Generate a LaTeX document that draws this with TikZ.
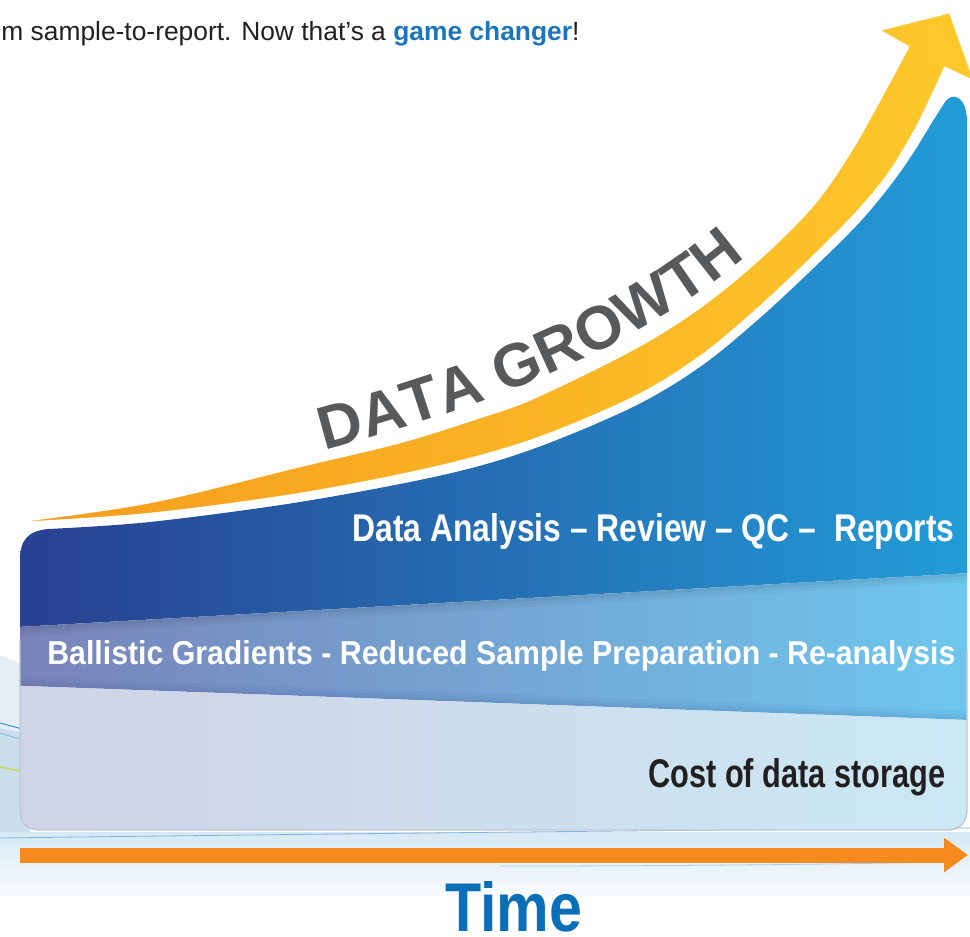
\documentclass[tikz,border=0pt]{standalone}
\usepackage{fontspec}
\usepackage{graphicx}
\setmainfont{Liberation Sans}
\usetikzlibrary{arrows.meta}
\definecolor{navyL}{HTML}{283E8E}
\definecolor{navyM}{HTML}{2A66B1}
\definecolor{navyR}{HTML}{229DD8}
\definecolor{midL}{HTML}{7A82B8}
\definecolor{midM}{HTML}{78A6D5}
\definecolor{midR}{HTML}{6EC7EE}
\definecolor{lowL}{HTML}{CFD3E6}
\definecolor{lowR}{HTML}{CCE8F5}
\definecolor{arrO}{HTML}{F59C1D}
\definecolor{arrY}{HTML}{FEC92B}
\definecolor{timeO}{HTML}{F58A1F}
\definecolor{timeB}{HTML}{0B6FB8}
\definecolor{dgray}{HTML}{58595B}
\definecolor{ink}{HTML}{231F20}
\definecolor{gcblue}{HTML}{1B75BC}
\definecolor{paleA}{HTML}{E4EEF5}
\definecolor{paleB}{HTML}{C9DDEA}
\definecolor{swblue}{HTML}{4C8FD0}
\definecolor{swgreen}{HTML}{C8DC5A}
\definecolor{reflA}{HTML}{D6E9F5}
\definecolor{edgegray}{HTML}{BFC8D4}
\newcommand{\dgfont}{\fontsize{30.5pt}{30.5pt}\selectfont\bfseries}
\newcommand{\panelpath}{(20,560) .. controls (20,540) and (28,531) .. (48,529) -- plot[smooth, tension=0.55] coordinates {(48,529) (150,522) (300,502) (443,475) (533,449) (633,407) (700,367) (760,318) (820,262) (860,222) (890,186) (912,155) (933,121) (945,102)} .. controls (952,92) and (966,95) .. (967,120) -- (967,810) .. controls (967,822) and (960,830) .. (947,830) -- (40,830) .. controls (27,830) and (20,823) .. (20,810) -- cycle}
\newcommand{\arrowpath}{(20,521) -- plot[smooth, tension=0.55] coordinates {(20,521) (150,502) (300,466) (400,442) (477,418) (533,398) (633,349) (700,307) (760,258) (813,205) (850,152) (880,99) (908,47)} -- (878,30) -- (950,12) -- (975,82) -- (945,68) -- plot[smooth, tension=0.55] coordinates {(945,68) (918,125) (890,172) (860,209) (820,250) (760,307) (700,357) (633,398) (533,440) (433,468) (300,494) (150,514) (20,523)} -- cycle}
\tikzset{
  paneltext/.style={inner sep=0pt, anchor=base west},
  dgl/.style={sloped, anchor=base, inner sep=0pt, text=dgray, font=\dgfont},
  swline/.style={line width=0.5pt}
}
\begin{document}
\begin{tikzpicture}[x=0.5pt,y=-0.5pt]
\useasboundingbox (0,0) rectangle (970,937);
\clip (0,0) rectangle (970,937);

% background swoosh at left and reflection below
\fill[paleA] (0,655) -- (30,668) -- (30,836) -- (0,836) -- cycle;
\fill[paleB] (0,728) -- (30,735) -- (30,836) -- (0,836) -- cycle;
\draw[swline, swblue] (0,723) -- (30,731);
\draw[swline, swblue!60] (0,733) -- (30,742);
\draw[swline, swgreen, line width=0.8pt] (0,767) -- (30,773);
\shade[top color=reflA, bottom color=white] (0,832) rectangle (970,905);
\draw[swline, swblue!70, line width=0.4pt] (0,838) .. controls (400,833) and (700,830) .. (970,828);
\draw[swline, swblue!45, line width=0.4pt] (500,866) .. controls (700,866) and (850,864) .. (945,862);

% panel bands
\begin{scope}
  \clip \panelpath;
  \shade[left color=navyL, middle color=navyM, right color=navyR] (0,0) -- (970,0) -- (970,573) -- (0,628) -- cycle;
  \shade[left color=midL, middle color=midM, right color=midR] (0,628) -- (970,573) -- (970,720) -- (0,685) -- cycle;
  \shade[left color=lowL, right color=lowR] (0,685) -- (970,720) -- (970,940) -- (0,940) -- cycle;
  % soft shadow under the dark band
  \fill[black, opacity=0.10] (0,628) -- (970,573) -- (970,576) -- (0,631) -- cycle;
  \fill[black, opacity=0.06] (0,631) -- (970,576) -- (970,579) -- (0,634) -- cycle;
  \fill[black, opacity=0.03] (0,634) -- (970,579) -- (970,582) -- (0,637) -- cycle;
  % soft dark edge at the bottom of the middle band
  \fill[navyL, opacity=0.05] (0,676) -- (970,711) -- (970,715) -- (0,680) -- cycle;
  \fill[navyL, opacity=0.10] (0,680) -- (970,715) -- (970,718) -- (0,683) -- cycle;
  \fill[navyL, opacity=0.16] (0,683) -- (970,718) -- (970,720) -- (0,685) -- cycle;
\end{scope}
\draw[edgegray, line width=0.7pt] (20,640) -- (20,810) .. controls (20,823) and (27,830) .. (40,830) -- (947,830) .. controls (960,830) and (967,822) .. (967,810) -- (967,650);

% data growth arrow
\shade[left color=arrO, right color=arrY] \arrowpath;
\draw[white, line width=1.2pt, line join=round] \arrowpath;
\path (325,450) .. controls (475,410) and (640,350) .. (750,253)
  node[dgl, pos=0.046] (g1) {D}
  node[dgl, pos=0.139] (g2) {A}
  node[dgl, pos=0.224] (g3) {T}
  node[dgl, pos=0.309] (g4) {A}
  node[dgl, pos=0.438] (g5) {G}
  node[dgl, pos=0.533] (g6) {R}
  node[dgl, pos=0.630] (g7) {O}
  node[dgl, pos=0.741] (g8) {W}
  node[dgl, pos=0.847] (g9) {T}
  node[dgl, pos=0.938] (g10) {H};

% panel texts
\node[paneltext, text=white] (analysis) at (352,541)
  {\resizebox{301pt}{14pt}{\bfseries Data Analysis – Review – QC –~ Reports}};
\node[paneltext, text=white] (ballistic) at (47,664)
  {\resizebox{454pt}{12pt}{\bfseries Ballistic Gradients - Reduced Sample Preparation - Re-analysis}};
\node[paneltext, text=ink] (storage) at (648,787)
  {\resizebox{148.5pt}{14.5pt}{\bfseries Cost of data storage}};

% time axis
\coordinate (t0) at (20,855);
\coordinate (t1) at (968,855);
\draw[timeO, line width=7.5pt, -{Triangle[length=12pt, width=16.5pt]}] (t0) -- (t1);
\node[paneltext, text=timeB] (time) at (445,931)
  {\resizebox{68.5pt}{25pt}{\bfseries Time}};

% intro line
\node[paneltext, text=ink] (intro) at (1,40)
  {\resizebox{289pt}{!}{\fontsize{13pt}{15pt}\selectfont m sample-to-report. Now that’s a \textcolor{gcblue}{\bfseries game changer}!}};
\end{tikzpicture}
\end{document}
